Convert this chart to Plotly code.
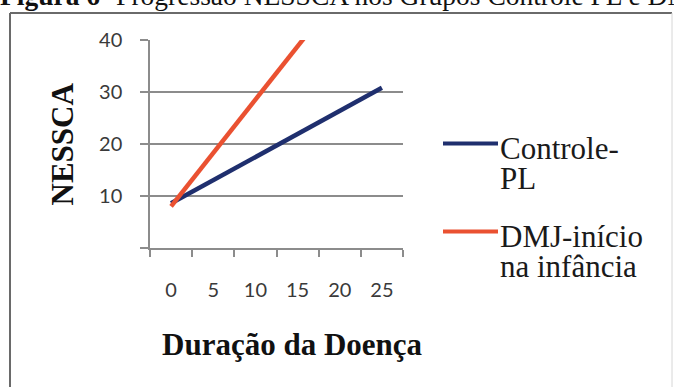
import plotly.graph_objects as go

# Disease duration categories (years) and NESSCA scores per group
duracao = [0, 5, 10, 15, 20, 25]
duracao_labels = ["0", "5", "10", "15", "20", "25"]
controle_pl = [8.6, 13.0, 17.5, 21.9, 26.4, 30.8]
dmj_infancia = [8.0, 18.3, 28.5, 38.8, 49.0, 59.3]

y_ticks = [0, 10, 20, 30, 40]
y_ticktext = ["", "10", "20", "30", "40"]

# category boundaries (tick marks sit between categories)
bounds = [d - 2.5 for d in duracao] + [duracao[-1] + 2.5]

BLUE = "#1f2f6e"
RED = "#ea5131"
GRID = "#8c8c8c"
SERIF = "Liberation Serif"

fig = go.Figure()
fig.add_trace(go.Scatter(x=duracao, y=controle_pl, mode="lines", name="Controle-PL",
                         line=dict(color=BLUE, width=4.5), xaxis="x", yaxis="y"))
fig.add_trace(go.Scatter(x=duracao, y=dmj_infancia, mode="lines", name="DMJ-início na infância",
                         line=dict(color=RED, width=4.5), xaxis="x", yaxis="y"))

xr = [bounds[0], bounds[-1]]

fig.update_layout(
    width=674, height=387,
    margin=dict(l=150, r=271, t=40, b=139),
    paper_bgcolor="white", plot_bgcolor="white",
    showlegend=False,
    xaxis=dict(range=xr, tickvals=bounds, ticktext=[""] * len(bounds),
               ticks="outside", ticklen=7, tickcolor=GRID, tickwidth=1.5,
               showgrid=False, zeroline=False, showline=True, linecolor=GRID, linewidth=1.5,
               fixedrange=True),
    xaxis2=dict(range=xr, overlaying="x", anchor="y", side="bottom",
                tickvals=duracao, ticktext=duracao_labels, ticks="", ticklen=0,
                ticklabelstandoff=28, showgrid=False, zeroline=False, showline=False,
                tickfont=dict(family="Lato", size=20, color="#3a3a3a")),
    yaxis=dict(range=[0, 40], tickvals=y_ticks, ticktext=y_ticktext,
               ticks="outside", ticklen=8, tickcolor=GRID, tickwidth=1.5,
               showgrid=True, gridcolor=GRID, gridwidth=1.5, zeroline=False,
               showline=True, linecolor=GRID, linewidth=1.5, ticklabelstandoff=14,
               tickfont=dict(family="Lato", size=20, color="#3a3a3a")),
)

# placeholder trace so the label axis is drawn
fig.add_trace(go.Scatter(x=[duracao[0]], y=[None], xaxis="x2", yaxis="y",
                         showlegend=False, hoverinfo="skip"))

def px_x(p):
    return (p - 150) / 253.0

def px_y(p):
    return (248 - p) / 208.0

annotations = [
    dict(text="<b>NESSCA</b>", x=px_x(62), y=px_y(144.5), textangle=-90,
         font=dict(family=SERIF, size=31, color="#111111")),
    dict(text="<b>Duração da Doença</b>", x=px_x(292), y=px_y(344),
         font=dict(family=SERIF, size=31, color="#111111")),
    dict(text="<b>Figura 6</b>- Progressão NESSCA nos Grupos Controle PL e DMJ-início na infância",
         x=px_x(-2), y=px_y(-5), xanchor="left",
         font=dict(family=SERIF, size=27.5, color="#111111")),
]

# legend text, one line per annotation
legend_rows = [("Controle-", 148.5), ("PL", 178.5), ("DMJ-início", 236.5), ("na infância", 266.5)]
for txt, yc in legend_rows:
    annotations.append(dict(text=txt, x=px_x(498), y=px_y(yc), xanchor="left",
                            font=dict(family=SERIF, size=31, color="#1a1a1a")))

for a in annotations:
    a.setdefault("xanchor", "center")
    a.setdefault("yanchor", "middle")
    a.update(xref="paper", yref="paper", showarrow=False)
fig.update_layout(annotations=annotations)

shapes = [
    # legend keys
    dict(type="line", x0=px_x(443), x1=px_x(498), y0=px_y(143.5), y1=px_y(143.5),
         line=dict(color=BLUE, width=4)),
    dict(type="line", x0=px_x(443), x1=px_x(498), y0=px_y(231.5), y1=px_y(231.5),
         line=dict(color=RED, width=4)),
    # chart frame
    dict(type="line", x0=px_x(10), x1=px_x(10), y0=px_y(13), y1=px_y(400),
         line=dict(color="#6a6a6a", width=2)),
    dict(type="line", x0=px_x(10), x1=px_x(672), y0=px_y(13), y1=px_y(13),
         line=dict(color="#6a6a6a", width=2)),
    dict(type="line", x0=px_x(672), x1=px_x(672), y0=px_y(13), y1=px_y(400),
         line=dict(color="#d6d6d6", width=1)),
]
for s in shapes:
    s.update(xref="paper", yref="paper", layer="above")
fig.update_layout(shapes=shapes)

fig.write_html("out.html")
